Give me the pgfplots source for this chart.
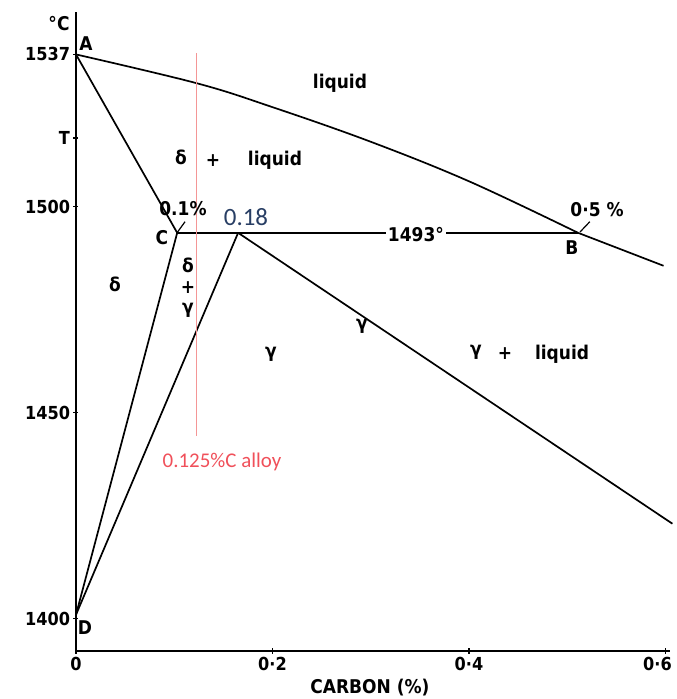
\documentclass[border=0pt]{standalone}
\usepackage{fontspec}
\setmainfont{DejaVu Sans Condensed}[BoldFont={DejaVu Sans Condensed Bold}]
\newfontfamily\carlito{Carlito}
\usepackage{pgfplots}
\pgfplotsset{compat=1.18}
\definecolor{redline}{RGB}{244,150,150}
\definecolor{redtext}{RGB}{240,80,90}
\definecolor{navytext}{RGB}{40,62,100}
\tikzset{lbl/.style={font=\fontsize{19}{21}\selectfont\bfseries, inner sep=0pt, anchor=center},
  pl/.style={black, line width=1.7bp}}
\begin{document}
\begin{tikzpicture}[x=1bp,y=1bp]
\useasboundingbox (-76,-48) rectangle (601,651);
\begin{axis}[
  at={(0,0)}, anchor=south west,
  scale only axis, width=594.4bp, height=639bp,
  xmin=0, xmax=0.605, ymin=1392.2, ymax=1547.3,
  axis lines*=left,
  axis line style={line width=2.2bp, black},
  clip=false,
  xtick={0,0.2,0.4,0.6}, xticklabels={0,0·2,0·4,\hspace*{-16bp}0·6},
  ytick={1400,1450,1500,1516.7,1537}, yticklabels={1400,1450,1500,T,1537},
  tick style={black, line width=1.2bp},
  major tick length=5bp,
  tick align=center,
  ticklabel style={font=\fontsize{18}{20}\selectfont\bfseries},
]
% liquidus A-B and beyond
\addplot[pl, smooth, tension=0.6] coordinates {(0,1537) (0.123,1530.0) (0.2,1524.2) (0.3,1515.8) (0.401,1506.1) (0.511,1493.7)};
\addplot[pl] coordinates {(0.511,1493.7) (0.598,1485.7)};
% A-C
\addplot[pl] coordinates {(0,1537) (0.103,1493.7)};
% peritectic horizontal C-B
\addplot[pl] coordinates {(0.103,1493.7) (0.511,1493.7)};
% gamma solidus from 0.18
\addplot[pl] coordinates {(0.165,1493.7) (0.607,1423.1)};
% D-C and D-0.18
\addplot[pl] coordinates {(0,1401) (0.103,1493.7)};
\addplot[pl] coordinates {(0,1401) (0.165,1493.7)};
% leaders
\addplot[pl, line width=1.2bp] coordinates {(0.1028,1493.7) (0.111,1496.4)};
\addplot[pl, line width=1.2bp] coordinates {(0.513,1493.9) (0.523,1496.4)};
% alloy line
\addplot[redline, line width=0.9bp] coordinates {(0.123,1537.3) (0.123,1444.3)};

\node[lbl] at (axis cs:-0.0173,1544.4) {°C};
\node[lbl] at (axis cs:0.0102,1539.6) {A};
\node[lbl] at (axis cs:0.2687,1530.1) {liquid};
\node[lbl] at (axis cs:0.1069,1511.9) {δ};
\node[lbl] at (axis cs:0.1394,1511.2) {+};
\node[lbl] at (axis cs:0.2025,1511.4) {liquid};
\node[lbl] at (axis cs:0.0397,1481.1) {δ};
\node[lbl] at (axis cs:0.114,1485.7) {δ};
\node[lbl] at (axis cs:0.114,1480.3) {+};
\node[lbl] at (axis cs:0.114,1475.0) {γ};
\node[lbl] at (axis cs:0.1985,1464.3) {γ};
\node[lbl] at (axis cs:0.291,1471.1) {γ};
\node[lbl] at (axis cs:0.407,1464.8) {γ};
\node[lbl] at (axis cs:0.4366,1464.3) {+};
\node[lbl] at (axis cs:0.4947,1464.1) {liquid};
\node[lbl, fill=white, inner sep=2bp] at (axis cs:0.346,1493.4) {1493°};
\node[lbl] at (axis cs:0.5303,1499.3) {0·5 \%};
\node[lbl] at (axis cs:0.5048,1490.0) {B};
\node[lbl] at (axis cs:0.1089,1499.5) {0.1\%};
\node[lbl] at (axis cs:0.0875,1492.5) {C};
\node[lbl, font=\carlito\fontsize{25}{27}\selectfont, text=navytext] at (axis cs:0.173,1497.6) {0.18};
\node[lbl, font=\carlito\fontsize{21}{23}\selectfont, text=redtext] at (axis cs:0.1486,1438.1) {0.125\%C alloy};
\node[lbl] at (axis cs:0.00916,1397.8) {D};
\node[lbl] at (axis cs:0.2992,1383.3) {CARBON (\%)};
\end{axis}
\end{tikzpicture}
\end{document}
